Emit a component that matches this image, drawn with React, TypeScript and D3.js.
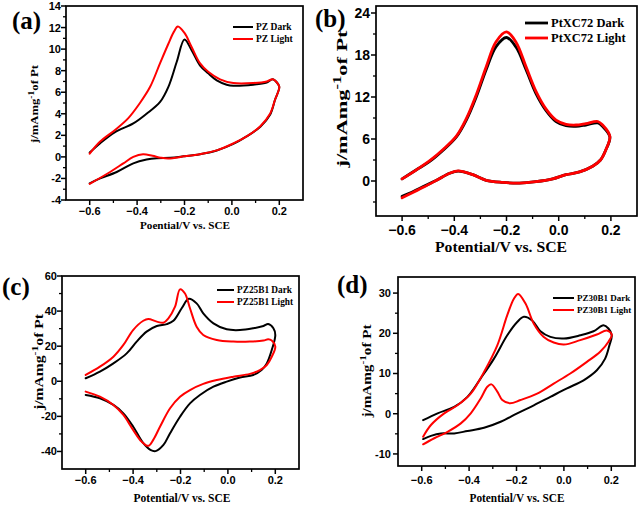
import React from 'react';
import * as d3 from 'd3';

type Pt = [number, number];

// ---------- data (potential V vs SCE, current density mA/mg Pt) ----------
const xTickValues = [-0.6, -0.4, -0.2, 0.0, 0.2];
const xMinorValues = [-0.5, -0.3, -0.1, 0.1];

const aYTicks = [-4, -2, 0, 2, 4, 6, 8, 10, 12, 14];
const aYMinor = [-3, -1, 1, 3, 5, 7, 9, 11, 13];
const bYTicks = [0, 6, 12, 18, 24];
const bYMinor = [-3, 3, 9, 15, 21];
const cYTicks = [-40, -20, 0, 20, 40, 60];
const cYMinor = [-30, -10, 10, 30, 50];
const dYTicks = [-10, 0, 10, 20, 30];
const dYMinor = [-5, 5, 15, 25];

const aNames = ['PZ Dark', 'PZ Light'];
const bNames = ['PtXC72 Dark', 'PtXC72 Light'];
const cNames = ['PZ25B1 Dark', 'PZ25B1 Light'];
const dNames = ['PZ30B1 Dark', 'PZ30B1 Light'];

const pzDark: Pt[] = [
  [-0.6, 0.4], [-0.557, 1.25], [-0.493, 2.3], [-0.416, 3.1], [-0.36, 4.0], [-0.303, 5.1], [-0.268, 6.5],
  [-0.233, 8.8], [-0.2, 10.9], [-0.17, 9.9], [-0.135, 8.5], [-0.1, 7.75], [-0.064, 7.1], [-0.022, 6.7],
  [0.006, 6.6], [0.09, 6.7], [0.147, 6.9], [0.172, 7.2], [0.19, 6.9], [0.2, 6.5],
  [0.182, 5.3], [0.161, 3.9], [0.12, 2.8], [0.062, 1.9], [0.006, 1.2], [-0.064, 0.6], [-0.135, 0.25],
  [-0.205, 0.05], [-0.26, -0.08], [-0.317, -0.12], [-0.36, -0.25], [-0.416, -0.6], [-0.486, -1.4],
  [-0.556, -2.0], [-0.6, -2.45],
];
const pzLight: Pt[] = [
  [-0.6, 0.3], [-0.557, 1.4], [-0.493, 2.5], [-0.437, 3.6], [-0.388, 5.0], [-0.345, 6.5], [-0.303, 8.7],
  [-0.268, 10.5], [-0.245, 11.6], [-0.228, 12.1], [-0.2, 11.5], [-0.17, 10.2], [-0.135, 8.7], [-0.1, 7.9],
  [-0.05, 7.2], [0.006, 6.85], [0.09, 6.85], [0.147, 7.0], [0.172, 7.2], [0.19, 6.9], [0.2, 6.5],
  [0.182, 5.3], [0.161, 4.0], [0.12, 2.85], [0.062, 1.9], [0.006, 1.25], [-0.064, 0.6], [-0.135, 0.25],
  [-0.2, 0.05], [-0.268, -0.15], [-0.3, -0.08], [-0.335, 0.1], [-0.375, 0.25], [-0.416, 0.0],
  [-0.458, -0.6], [-0.514, -1.4], [-0.6, -2.5],
];

const ptDark: Pt[] = [
  [-0.6, 0.3], [-0.545, 1.6], [-0.494, 2.8], [-0.443, 4.4], [-0.392, 6.3], [-0.354, 8.7], [-0.316, 12.0],
  [-0.278, 15.9], [-0.24, 19.2], [-0.2, 20.5], [-0.163, 19.1], [-0.125, 15.9], [-0.087, 12.5], [-0.049, 10.1],
  [-0.01, 8.5], [0.028, 7.9], [0.066, 7.8], [0.104, 8.0], [0.15, 8.3], [0.168, 7.8], [0.196, 6.3],
  [0.18, 4.4], [0.16, 3.0], [0.13, 2.1], [0.08, 1.3], [0.028, 0.9], [-0.023, 0.3], [-0.087, -0.1],
  [-0.15, -0.3], [-0.214, -0.2], [-0.278, 0.1], [-0.329, 0.9], [-0.385, 1.4], [-0.418, 1.1], [-0.468, 0.1],
  [-0.519, -0.8], [-0.557, -1.5], [-0.6, -2.2],
];
const ptLight: Pt[] = [
  [-0.6, 0.3], [-0.545, 1.6], [-0.494, 2.9], [-0.443, 4.5], [-0.392, 6.4], [-0.354, 8.9], [-0.316, 12.3],
  [-0.278, 16.3], [-0.24, 19.9], [-0.2, 21.3], [-0.163, 19.8], [-0.125, 16.3], [-0.087, 12.8], [-0.049, 10.3],
  [-0.01, 8.7], [0.028, 8.1], [0.066, 8.0], [0.104, 8.2], [0.15, 8.5], [0.168, 8.0], [0.196, 6.4],
  [0.18, 4.4], [0.16, 3.0], [0.13, 2.1], [0.08, 1.3], [0.028, 0.9], [-0.023, 0.3], [-0.087, -0.1],
  [-0.15, -0.3], [-0.214, -0.2], [-0.278, 0.1], [-0.329, 0.9], [-0.385, 1.45], [-0.418, 1.1], [-0.468, 0.1],
  [-0.519, -0.9], [-0.557, -1.6], [-0.6, -2.4],
];

const pz25Dark: Pt[] = [
  [-0.6, 1.7], [-0.54, 5.5], [-0.483, 10.2], [-0.427, 15.9], [-0.385, 22.6], [-0.343, 28.3], [-0.3, 31.5],
  [-0.258, 32.6], [-0.23, 34.5], [-0.195, 41.6], [-0.165, 47.0], [-0.132, 44.4], [-0.104, 38.7], [-0.061, 33.0],
  [-0.005, 29.6], [0.051, 29.2], [0.107, 30.2], [0.15, 31.5], [0.17, 32.6], [0.192, 30.2], [0.2, 26.4],
  [0.185, 17.8], [0.164, 10.2], [0.142, 6.4], [0.107, 3.6], [0.051, 2.1], [-0.005, -0.2], [-0.061, -3.1],
  [-0.118, -7.8], [-0.16, -12.6], [-0.202, -20.2], [-0.244, -29.6], [-0.272, -36.3], [-0.305, -39.8],
  [-0.325, -39.3], [-0.357, -35.3], [-0.4, -25.8], [-0.441, -18.3], [-0.483, -13.5], [-0.54, -9.7], [-0.6, -7.8],
];
const pz25Light: Pt[] = [
  [-0.6, 3.6], [-0.54, 8.3], [-0.483, 14.0], [-0.441, 20.7], [-0.4, 29.2], [-0.357, 34.5], [-0.336, 35.5],
  [-0.3, 34.0], [-0.272, 33.4], [-0.251, 35.9], [-0.223, 42.5], [-0.202, 52.4], [-0.181, 50.0], [-0.16, 41.6],
  [-0.132, 31.1], [-0.104, 26.4], [-0.047, 23.5], [0.023, 22.6], [0.093, 22.6], [0.15, 23.2], [0.17, 23.9],
  [0.185, 23.2], [0.2, 19.7],
  [0.185, 14.0], [0.164, 9.3], [0.135, 6.4], [0.093, 4.2], [0.023, 2.6], [-0.047, 0.7], [-0.104, -1.5],
  [-0.16, -5.0], [-0.202, -8.8], [-0.244, -15.4], [-0.286, -25.8], [-0.315, -33.4], [-0.336, -36.8],
  [-0.364, -34.4], [-0.4, -27.7], [-0.441, -19.2], [-0.483, -13.5], [-0.54, -8.8], [-0.6, -5.9],
];

const pz30Dark: Pt[] = [
  [-0.594, -1.6], [-0.533, 0.1], [-0.463, 1.7], [-0.407, 4.2], [-0.351, 8.8], [-0.295, 13.7], [-0.239, 19.5],
  [-0.197, 22.8], [-0.169, 24.1], [-0.134, 23.2], [-0.099, 20.5], [-0.057, 19.1], [0.0, 18.7], [0.069, 19.5],
  [0.125, 20.5], [0.167, 22.0], [0.188, 21.2], [0.202, 19.5],
  [0.192, 17.0], [0.174, 13.7], [0.139, 10.8], [0.083, 8.3], [0.013, 6.3], [-0.057, 4.2], [-0.127, 2.1],
  [-0.197, 0.1], [-0.267, -2.0], [-0.337, -3.5], [-0.407, -4.3], [-0.463, -4.9], [-0.519, -4.9],
  [-0.561, -5.5], [-0.594, -6.3],
];
const pz30Light: Pt[] = [
  [-0.594, -5.7], [-0.561, -2.8], [-0.505, 0.1], [-0.449, 2.1], [-0.393, 5.0], [-0.337, 10.4], [-0.281, 17.0],
  [-0.239, 24.5], [-0.211, 28.6], [-0.193, 29.8], [-0.162, 27.4], [-0.127, 22.4], [-0.085, 19.1], [-0.043, 17.7],
  [0.0, 17.2], [0.069, 18.3], [0.139, 19.7], [0.181, 20.7], [0.202, 19.7],
  [0.188, 17.9], [0.153, 15.4], [0.097, 12.9], [0.027, 10.0], [-0.043, 7.5], [-0.113, 5.0], [-0.183, 3.4],
  [-0.228, 2.6], [-0.26, 3.4], [-0.281, 5.5], [-0.306, 7.3], [-0.323, 6.7], [-0.351, 3.8], [-0.393, 0.1],
  [-0.435, -2.4], [-0.491, -4.5], [-0.547, -6.1], [-0.594, -7.6],
];

// ---------- layout ----------
const SERIF = '"Liberation Serif", "Times New Roman", serif';
const SANS = '"Liberation Sans", Arial, sans-serif';
const COLORS = ['#000000', '#ff0000'];

const panels = [
  {
    id: 'a', label: '(a)', labelX: 12, labelY: 29, series: [pzDark, pzLight], names: aNames,
    yDomain: [-4, 14], yTicks: aYTicks, yMinor: aYMinor, box: { l: 66, r: 303, t: 6, b: 200 },
    tickFont: 11, xLabY: 215, yLabR: 61,
    xTitle: 'Poential/V vs. SCE', xTitleX: 185, xTitleY: 229, xTitleLen: 90, titleFont: 11,
    yTitleX: 38, yTitleY: 104, yTitleLen: 78,
    legend: { x: 233, y: 27, len: 20, dy: 12, font: 9.5 }, lw: 2,
  },
  {
    id: 'b', label: '(b)', labelX: 315, labelY: 27, series: [ptDark, ptLight], names: bNames,
    yDomain: [-5, 25], yTicks: bYTicks, yMinor: bYMinor, box: { l: 376, r: 637, t: 6, b: 216 },
    tickFont: 14, xLabY: 235, yLabR: 370,
    xTitle: 'Potential/V vs. SCE', xTitleX: 501, xTitleY: 252, xTitleLen: 132, titleFont: 15.5,
    yTitleX: 347, yTitleY: 99, yTitleLen: 137,
    legend: { x: 525, y: 23, len: 23, dy: 15, font: 12.5 }, lw: 2.8,
  },
  {
    id: 'c', label: '(c)', labelX: 2, labelY: 295, series: [pz25Dark, pz25Light], names: cNames,
    yDomain: [-50, 60], yTicks: cYTicks, yMinor: cYMinor, box: { l: 62, r: 299, t: 276, b: 469 },
    tickFont: 11, xLabY: 484, yLabR: 57,
    xTitle: 'Potential/V vs. SCE', xTitleX: 182, xTitleY: 502, xTitleLen: 97, titleFont: 11.5,
    yTitleX: 43, yTitleY: 362, yTitleLen: 96,
    legend: { x: 217, y: 290, len: 17, dy: 12, font: 9.3 }, lw: 2,
  },
  {
    id: 'd', label: '(d)', labelX: 337, labelY: 293, series: [pz30Dark, pz30Light], names: dNames,
    yDomain: [-13, 34], yTicks: dYTicks, yMinor: dYMinor, box: { l: 398, r: 635, t: 277, b: 466 },
    tickFont: 11, xLabY: 484, yLabR: 391,
    xTitle: 'Potential/V vs. SCE', xTitleX: 517, xTitleY: 502, xTitleLen: 95, titleFont: 11.5,
    yTitleX: 371, yTitleY: 371, yTitleLen: 93,
    legend: { x: 553, y: 298, len: 21, dy: 12, font: 9 }, lw: 2,
  },
];

function Panel({ p }: { p: (typeof panels)[number] }) {
  const x = d3.scaleLinear().domain([-0.7, 0.3]).range([p.box.l, p.box.r]);
  const y = d3.scaleLinear().domain(p.yDomain).range([p.box.b, p.box.t]);
  const line = d3
    .line<Pt>()
    .x((d) => x(d[0]))
    .y((d) => y(d[1]))
    .curve(d3.curveCatmullRom.alpha(0.5));
  const fmtX = (v: number) => (Math.abs(v) < 1e-9 ? '0.0' : d3.format('.1f')(v));
  const { l, r, t, b } = p.box;
  const fw = 1.7;
  const sup = p.titleFont * 0.75;
  return (
    <g>
      <text x={p.labelX} y={p.labelY} fontFamily={SERIF} fontWeight="bold" fontSize={25}>
        {p.label}
      </text>
      {p.series.map((s, i) => (
        <path key={i} d={line(s) || ''} fill="none" stroke={COLORS[i]} strokeWidth={p.lw}
          strokeLinejoin="round" strokeLinecap="round" />
      ))}
      <rect x={l} y={t} width={r - l} height={b - t} fill="none" stroke="#000" strokeWidth={fw} />
      {xTickValues.map((v) => (
        <g key={'xt' + v}>
          <line x1={x(v)} x2={x(v)} y1={b} y2={b + 5} stroke="#000" strokeWidth={1.5} />
          <text x={x(v)} y={p.xLabY} textAnchor="middle" fontFamily={SANS} fontWeight="bold"
            fontSize={p.tickFont}>{fmtX(v)}</text>
        </g>
      ))}
      {xMinorValues.map((v) => (
        <line key={'xm' + v} x1={x(v)} x2={x(v)} y1={b} y2={b + 3} stroke="#000" strokeWidth={1.3} />
      ))}
      {p.yTicks.map((v) => (
        <g key={'yt' + v}>
          <line x1={l - 5} x2={l} y1={y(v)} y2={y(v)} stroke="#000" strokeWidth={1.5} />
          <text x={p.yLabR} y={y(v)} dy="0.36em" textAnchor="end" fontFamily={SANS} fontWeight="bold"
            fontSize={p.tickFont}>{v}</text>
        </g>
      ))}
      {p.yMinor.map((v) => (
        <line key={'ym' + v} x1={l - 3} x2={l} y1={y(v)} y2={y(v)} stroke="#000" strokeWidth={1.3} />
      ))}
      <text x={p.xTitleX} y={p.xTitleY} textAnchor="middle" fontFamily={SERIF} fontWeight="bold"
        fontSize={p.titleFont} textLength={p.xTitleLen} lengthAdjust="spacingAndGlyphs">{p.xTitle}</text>
      <text transform={`translate(${p.yTitleX},${p.yTitleY}) rotate(-90)`} textAnchor="middle"
        fontFamily={SERIF} fontWeight="bold" fontSize={p.titleFont} textLength={p.yTitleLen}
        lengthAdjust="spacingAndGlyphs">
        j/mAmg<tspan fontSize={sup} dy={-p.titleFont * 0.4}>-1</tspan>
        <tspan dy={p.titleFont * 0.4}>of Pt</tspan>
      </text>
      {p.names.map((n, i) => (
        <g key={n}>
          <line x1={p.legend.x} x2={p.legend.x + p.legend.len} y1={p.legend.y + i * p.legend.dy}
            y2={p.legend.y + i * p.legend.dy} stroke={COLORS[i]} strokeWidth={p.lw} />
          <text x={p.legend.x + p.legend.len + 3} y={p.legend.y + i * p.legend.dy} dy="0.35em"
            fontFamily={SERIF} fontWeight="bold" fontSize={p.legend.font}>{n}</text>
        </g>
      ))}
    </g>
  );
}

export default function App() {
  return (
    <svg width={640} height={505} viewBox="0 0 640 505"
      style={{ position: 'absolute', left: 0, top: 0, background: '#fff' }}>
      <rect x={0} y={0} width={640} height={505} fill="#fff" />
      {panels.map((p) => (
        <Panel key={p.id} p={p} />
      ))}
    </svg>
  );
}
